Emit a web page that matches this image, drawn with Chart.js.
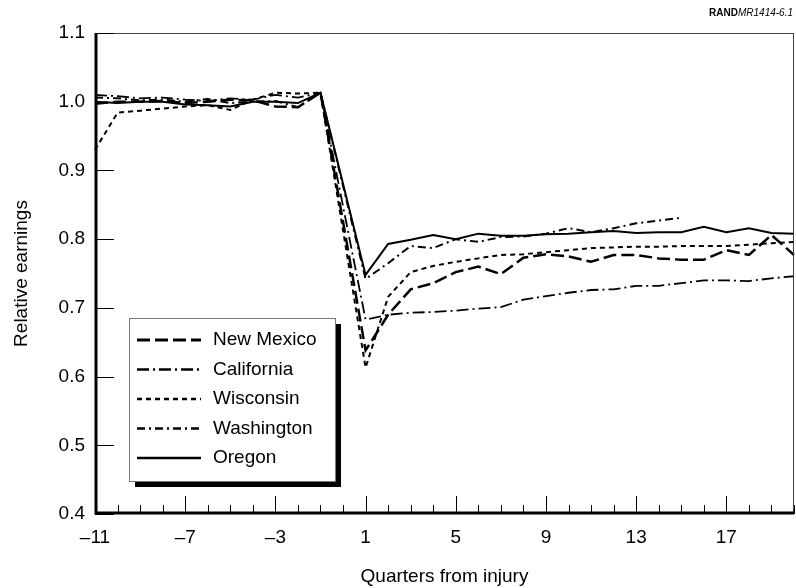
<!DOCTYPE html>
<html>
<head>
<meta charset="utf-8">
<script src="https://cdn.jsdelivr.net/npm/chart.js@4/dist/chart.umd.min.js"></script>
<style>
  body { margin: 0; background: #fff; }
  #wrap { width: 796px; height: 588px; position: relative; }
</style>
</head>
<body>
<div id="wrap"><canvas id="myChart" width="796" height="588"></canvas></div>
<script>
// quarters relative to injury; quarter 0 has no value
const quarters = [-11, -10, -9, -8, -7, -6, -5, -4, -3, -2, -1, 0, 1, 2, 3, 4, 5, 6, 7, 8, 9, 10, 11, 12, 13, 14, 15, 16, 17, 18, 19, 20];
const yTicks = [0.4, 0.5, 0.6, 0.7, 0.8, 0.9, 1.0, 1.1];

const newMexico  = [0.997, 1.000, 1.000, 1.001, 0.998, 1.000, 1.003, 1.002, 0.993, 0.992, 1.013, null, 0.638, 0.690, 0.727, 0.736, 0.752, 0.760, 0.749, 0.773, 0.778, 0.775, 0.767, 0.777, 0.777, 0.772, 0.770, 0.770, 0.784, 0.777, 0.806, 0.777];
const california = [1.010, 1.008, 1.005, 1.006, 1.003, 1.001, 1.005, 1.003, 1.010, 1.006, 1.013, null, 0.683, 0.690, 0.693, 0.694, 0.696, 0.699, 0.701, 0.712, 0.717, 0.722, 0.726, 0.727, 0.732, 0.732, 0.736, 0.740, 0.740, 0.739, 0.743, 0.746];
const wisconsin  = [0.930, 0.984, 0.987, 0.990, 0.993, 0.995, 0.988, 1.003, 1.013, 1.012, 1.013, null, 0.613, 0.716, 0.752, 0.761, 0.767, 0.772, 0.777, 0.778, 0.781, 0.784, 0.787, 0.788, 0.789, 0.789, 0.790, 0.790, 0.790, 0.792, 0.794, 0.796];
const washington = [1.006, 1.005, 1.002, 1.003, 1.000, 1.004, 0.998, 1.000, 1.001, 0.992, 1.013, null, 0.742, 0.765, 0.790, 0.787, 0.800, 0.796, 0.803, 0.804, 0.808, 0.816, 0.810, 0.816, 0.823, 0.827, 0.831, null, null, null, null, null];
const oregon     = [1.000, 0.998, 1.000, 1.000, 0.996, 0.995, 0.993, 1.000, 1.000, 0.998, 1.013, null, 0.748, 0.793, 0.799, 0.806, 0.800, 0.808, 0.805, 0.805, 0.807, 0.808, 0.810, 0.812, 0.809, 0.810, 0.810, 0.818, 0.810, 0.816, 0.809, 0.808];

const FONT = "'Liberation Sans', Arial, Helvetica, sans-serif";

function lineSet(label, data, dash, width) {
    return {
        label: label,
        data: data,
        borderColor: '#000',
        backgroundColor: '#000',
        borderWidth: width,
        borderDash: dash,
        pointRadius: 0,
        tension: 0,
        spanGaps: true,
        fill: false
    };
}

// frame, inward ticks, boxed legend and the source note
const decor = {
    id: 'decor',
    afterDatasetsDraw(chart) {
        const ctx = chart.ctx;
        const a = chart.chartArea;
        const xs = chart.scales.x;
        const ys = chart.scales.y;
        ctx.save();

        ctx.strokeStyle = '#444';
        ctx.lineWidth = 1;
        ctx.beginPath();
        ctx.moveTo(a.left, a.top + 0.5); ctx.lineTo(a.right, a.top + 0.5);
        ctx.moveTo(a.right - 0.5, a.top); ctx.lineTo(a.right - 0.5, a.bottom);
        ctx.stroke();

        ctx.strokeStyle = '#000';
        ctx.lineWidth = 1;
        ctx.beginPath();
        quarters.forEach((q, i) => {
            const x = Math.round(xs.getPixelForValue(i)) + 0.5;
            const len = (q + 11) % 4 === 0 ? 18 : 9;
            ctx.moveTo(x, a.bottom); ctx.lineTo(x, a.bottom - len);
        });
        yTicks.forEach(v => {
            const y = Math.round(ys.getPixelForValue(v)) + 0.5;
            ctx.moveTo(a.left, y); ctx.lineTo(a.left + 19, y);
        });
        ctx.stroke();

        ctx.lineWidth = 3;
        ctx.beginPath();
        ctx.moveTo(a.left + 1, a.top); ctx.lineTo(a.left + 1, a.bottom - 1);
        ctx.lineTo(a.right, a.bottom - 1);
        ctx.stroke();

        // legend
        const bx = 129, by = 318, bw = 206, bh = 163;
        ctx.fillStyle = '#000';
        ctx.fillRect(bx + 6, by + 6, bw, bh);
        ctx.fillStyle = '#fff';
        ctx.fillRect(bx, by, bw, bh);
        ctx.strokeStyle = '#777';
        ctx.lineWidth = 1;
        ctx.strokeRect(bx + 0.5, by + 0.5, bw, bh);
        chart.data.datasets.forEach((ds, i) => {
            const y = 340 + i * 29.5;
            ctx.strokeStyle = '#000';
            ctx.lineWidth = ds.borderWidth + 0.5;
            ctx.setLineDash(ds.borderDash);
            ctx.beginPath();
            ctx.moveTo(137, y); ctx.lineTo(201, y);
            ctx.stroke();
            ctx.setLineDash([]);
            ctx.fillStyle = '#000';
            ctx.font = '19px ' + FONT;
            ctx.textBaseline = 'middle';
            ctx.textAlign = 'left';
            ctx.fillText(ds.label, 213, y);
        });

        // source note
        ctx.textBaseline = 'alphabetic';
        ctx.textAlign = 'right';
        ctx.font = 'italic 10px ' + FONT;
        const note = 'MR1414-6.1';
        const w = ctx.measureText(note).width;
        ctx.fillText(note, 793, 16);
        ctx.font = 'bold 10px ' + FONT;
        ctx.fillText('RAND', 793 - w, 16);
        ctx.restore();
    }
};

new Chart(document.getElementById('myChart').getContext('2d'), {
    type: 'line',
    data: {
        labels: quarters,
        datasets: [
            lineSet('New Mexico', newMexico, [13, 5], 2.5),
            lineSet('California', california, [12, 4, 2, 4], 1.8),
            lineSet('Wisconsin', wisconsin, [5, 4], 2),
            lineSet('Washington', washington, [8, 4, 2, 4], 2),
            lineSet('Oregon', oregon, [], 2)
        ]
    },
    plugins: [decor],
    options: {
        responsive: false,
        animation: false,
        layout: { padding: { top: 33, right: 2, left: 0, bottom: 0 } },
        plugins: {
            legend: { display: false },
            tooltip: { enabled: false }
        },
        scales: {
            x: {
                type: 'category',
                offset: false,
                grid: { display: false, drawTicks: false },
                border: { display: false },
                ticks: {
                    autoSkip: false,
                    maxRotation: 0,
                    padding: 12,
                    color: '#000',
                    font: { family: FONT, size: 19 },
                    callback: function (val, idx) {
                        const q = quarters[idx];
                        if ((q + 11) % 4 !== 0) return '';
                        return q < 0 ? '\u2013' + Math.abs(q) : String(q);
                    }
                },
                title: {
                    display: true,
                    text: 'Quarters from injury',
                    color: '#000',
                    font: { family: FONT, size: 19 },
                    padding: { top: 0, bottom: 0 }
                },
                afterFit: function (scale) {
                    scale.height = 74;
                    scale.paddingLeft = 0;
                    scale.paddingRight = 0;
                }
            },
            y: {
                min: 0.4,
                max: 1.1,
                grid: { display: false, drawTicks: false },
                border: { display: false },
                ticks: {
                    stepSize: 0.1,
                    padding: 10,
                    color: '#000',
                    font: { family: FONT, size: 19 },
                    callback: v => v.toFixed(1)
                },
                title: {
                    display: true,
                    text: 'Relative earnings',
                    color: '#000',
                    font: { family: FONT, size: 19 },
                    padding: { top: 10, bottom: 0 }
                },
                afterFit: function (scale) { scale.width = 95; }
            }
        }
    }
});
</script>
</body>
</html>
